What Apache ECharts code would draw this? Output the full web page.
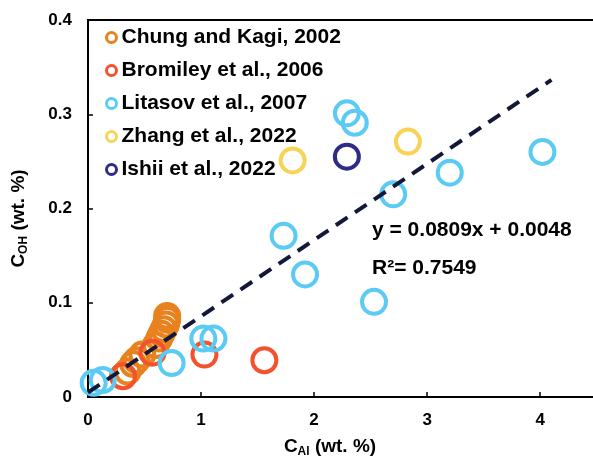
<!DOCTYPE html>
<html>
<head>
<meta charset="utf-8">
<script src="https://cdn.jsdelivr.net/npm/echarts@6/dist/echarts.min.js"></script>
<style>
  html, body { margin: 0; padding: 0; background: #fff; }
  #chart { width: 593px; height: 463px; }
</style>
</head>
<body>
<div id="chart"></div>
<script>
// Al content (wt. %) vs OH content (wt. %) for each study
const seriesNames = [
  'Chung and Kagi, 2002',
  'Bromiley et al., 2006',
  'Litasov et al., 2007',
  'Zhang et al., 2022',
  'Ishii et al., 2022'
];
const seriesColors = ['#E8821E', '#F4522D', '#5BCBF5', '#F7D358', '#2E2C86'];

const chungKagi = [
  [0.35, 0.027], [0.40, 0.035], [0.43, 0.039], [0.48, 0.045],
  [0.60, 0.055], [0.63, 0.062], [0.65, 0.067], [0.67, 0.072],
  [0.69, 0.077], [0.70, 0.082], [0.70, 0.086]
];
const bromiley = [
  [0.31, 0.022], [0.57, 0.047], [1.03, 0.045], [1.56, 0.039]
];
const litasov = [
  [0.05, 0.015], [0.13, 0.018], [0.74, 0.036], [1.02, 0.062],
  [1.11, 0.062], [1.73, 0.171], [1.92, 0.130], [2.53, 0.101],
  [2.29, 0.301], [2.36, 0.291], [2.70, 0.215], [3.20, 0.238],
  [4.02, 0.260]
];
const zhang = [[1.81, 0.251], [2.83, 0.271]];
const ishii = [[2.29, 0.255]];

// Linear fit y = 0.0809x + 0.0048
const fitSlope = 0.0809;
const fitIntercept = 0.0048;
const fitRange = [0, 4.1];

const xTicks = ['0', '1', '2', '3', '4'];
const yTicks = ['0', '0.1', '0.2', '0.3', '0.4'];

const datasets = [chungKagi, bromiley, litasov, zhang, ishii];
const fitLine = fitRange.map(x => [x, fitSlope * x + fitIntercept]);

const FONT = '"Liberation Sans", Arial, sans-serif';

const chart = echarts.init(document.getElementById('chart'), null, { renderer: 'canvas' });

const scatterSeries = datasets.map((d, i) => ({
  name: seriesNames[i],
  type: 'scatter',
  data: d,
  symbol: 'circle',
  symbolSize: 24,
  itemStyle: {
    color: 'rgba(255,255,255,0)',
    borderColor: seriesColors[i],
    borderWidth: 4,
    opacity: 1
  },
  emphasis: { disabled: true },
  z: 2 + i
}));

const nameRich = {
  m: { fontFamily: FONT, fontWeight: 'bold', fontSize: 19, color: '#000' },
  s: { fontFamily: FONT, fontWeight: 'bold', fontSize: 12, color: '#000', padding: [11, 0, 0, 0] }
};

const option = {
  animation: false,
  backgroundColor: '#fff',
  grid: {
    left: 88, top: 20, bottom: 66, width: 520,
    outerBoundsMode: 'none',
    containLabel: false,
    show: true, borderColor: '#000', borderWidth: 2, backgroundColor: 'transparent'
  },
  legend: {
    orient: 'vertical',
    left: 100, top: 21,
    itemWidth: 10, itemHeight: 10,
    itemGap: 10,
    icon: 'circle',
    data: seriesNames.map((n, i) => ({
      name: n,
      itemStyle: { color: '#fff', borderColor: seriesColors[i], borderWidth: 3 }
    })),
    textStyle: { fontFamily: FONT, fontWeight: 'bold', fontSize: 21, color: '#000', lineHeight: 23 }
  },
  xAxis: {
    type: 'value',
    min: 0, max: 4.6, interval: 1,
    splitLine: { show: false },
    axisLine: { lineStyle: { color: '#000', width: 2 } },
    axisTick: { inside: true, length: 5, lineStyle: { color: '#000', width: 1.5 } },
    axisLabel: {
      margin: 15, fontFamily: FONT, fontWeight: 'bold', fontSize: 17, color: '#000',
      showMaxLabel: false,
      formatter: v => (Number.isInteger(v) ? xTicks[v] : '')
    },
    name: '{m|C}{s|Al}{m| (wt. %)}',
    nameLocation: 'middle',
    nameGap: 38,
    nameTextStyle: { padding: [0, 36, 0, 0], rich: nameRich }
  },
  yAxis: {
    type: 'value',
    min: 0, max: 0.4, interval: 0.1,
    splitLine: { show: false },
    axisLine: { lineStyle: { color: '#000', width: 2 } },
    axisTick: { inside: true, length: 5, lineStyle: { color: '#000', width: 1.5 } },
    axisLabel: {
      margin: 16, fontFamily: FONT, fontWeight: 'bold', fontSize: 17, color: '#000',
      formatter: v => yTicks[Math.round(v * 10)]
    },
    name: '{m|C}{s|OH}{m| (wt. %)}',
    nameLocation: 'middle',
    nameGap: 58,
    nameTextStyle: { padding: [0, 20, 0, 0], rich: nameRich }
  },
  series: scatterSeries.concat([{
    name: 'fit',
    type: 'line',
    data: fitLine,
    symbol: 'none',
    lineStyle: { color: '#141838', width: 4, type: [14, 9] },
    emphasis: { disabled: true },
    z: 10
  }]),
  graphic: [
    {
      type: 'text', left: 372, top: 220, z: 20,
      style: { text: 'y = 0.0809x + 0.0048', fontFamily: FONT, fontWeight: 'bold', fontSize: 21, fill: '#000' }
    },
    {
      type: 'text', left: 372, top: 258, z: 20,
      style: { text: 'R\u00b2= 0.7549', fontFamily: FONT, fontWeight: 'bold', fontSize: 21, fill: '#000' }
    }
  ]
};

chart.setOption(option);
</script>
</body>
</html>
